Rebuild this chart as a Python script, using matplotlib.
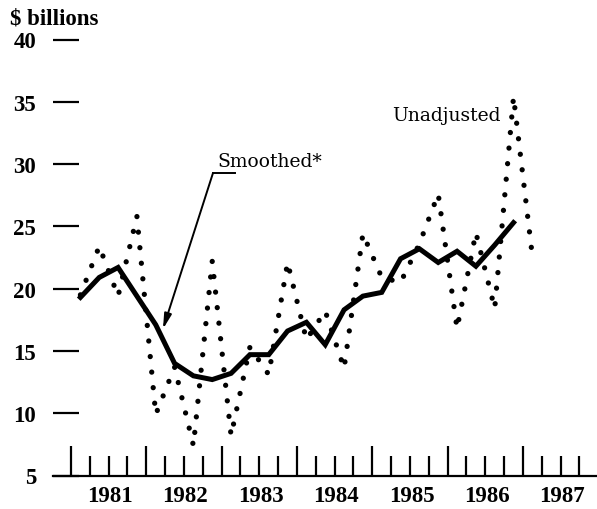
import numpy as np
import matplotlib
matplotlib.use('Agg')
import matplotlib.pyplot as plt
from matplotlib.ticker import FixedLocator

# quarterly data, 1981Q1 .. 1987Q1
Years = [1981, 1982, 1983, 1984, 1985, 1986, 1987]
Unadjusted = [19.5, 23.4, 19.4, 25.8, 9.9, 13.7, 7.4, 22.2, 8.2, 15.3,
              13.1, 22.1, 15.9, 18.2, 13.6, 24.4, 20.9, 20.5, 23.6, 27.6,
              16.8, 24.5, 18.4, 35.4, 22.6]
Smoothed = [19.3, 20.9, 21.7, 19.4, 17.1, 14.0, 13.0, 12.7, 13.2, 14.7,
            14.7, 16.6, 17.3, 15.5, 18.3, 19.4, 19.7, 22.4, 23.2, 22.1,
            23.0, 21.8, 23.5, 25.3]
YTicks = [5, 10, 15, 20, 25, 30, 35, 40]

# quarter mid points
QuarterX = 1981 + 0.125 + 0.25*np.arange(len(Unadjusted))

NumFont = 'Liberation Serif'
TextFont = 'DejaVu Serif'
NumSize = 16.5

fig = plt.figure(figsize=(5.97, 5.10), dpi=100)
ax = fig.add_axes([53/597., 1 - 476.5/510., 1 - 53/597., (476.5 - 40.5)/510.])

ax.plot(QuarterX, Unadjusted, color='black', linewidth=3.8,
        linestyle=(0, (0.01, 2.95)), dash_capstyle='round', clip_on=False)
ax.plot(QuarterX[:len(Smoothed)], Smoothed, color='black', linewidth=3.6,
        solid_joinstyle='miter', clip_on=False)

ax.set_xlim(1980.761, 1987.983)
ax.set_ylim(5, 40)

for side in ['left', 'top', 'right']:
    ax.spines[side].set_visible(False)
ax.spines['bottom'].set_linewidth(1.6)

ax.set_yticks(YTicks)
ax.set_yticklabels([str(v) for v in YTicks], fontfamily=NumFont,
                   fontweight='bold', fontsize=NumSize)
ax.tick_params(axis='y', direction='in', length=18.7, width=1.6, pad=12)

ax.xaxis.set_major_locator(FixedLocator(Years))
ax.xaxis.set_minor_locator(FixedLocator(
    [y + q for y in range(1980, 1988) for q in (0.25, 0.5, 0.75)]))
ax.set_xticklabels([])
ax.tick_params(axis='x', which='major', direction='in', length=21.6, width=1.6)
ax.tick_params(axis='x', which='minor', direction='in', length=14.4, width=1.6)

for Year in Years:
    ax.text(Year + 0.52, -0.047, str(Year), transform=ax.get_xaxis_transform(),
            ha='center', va='center', fontfamily=NumFont, fontweight='bold',
            fontsize=NumSize)

fig.text(10/597., 1 - 24/510., '$ billions', ha='left', va='baseline',
         fontfamily=NumFont, fontweight='bold', fontsize=NumSize)

# labels and arrow
ax.text(1982.938, 29.85, 'Smoothed*', ha='left', va='baseline',
        fontfamily=TextFont, fontsize=13.5)
ax.text(1985.26, 33.54, 'Unadjusted', ha='left', va='baseline',
        fontfamily=TextFont, fontsize=13.5)
ax.plot([1983.177, 1982.885], [29.28, 29.28], color='black', linewidth=1.4)
ax.annotate('', xy=(1982.221, 16.76), xytext=(1982.885, 29.28),
            arrowprops=dict(arrowstyle='-|>,head_length=0.9,head_width=0.22',
                            color='black', linewidth=1.4, shrinkA=0, shrinkB=0))

fig.savefig('out.png', dpi=100)
